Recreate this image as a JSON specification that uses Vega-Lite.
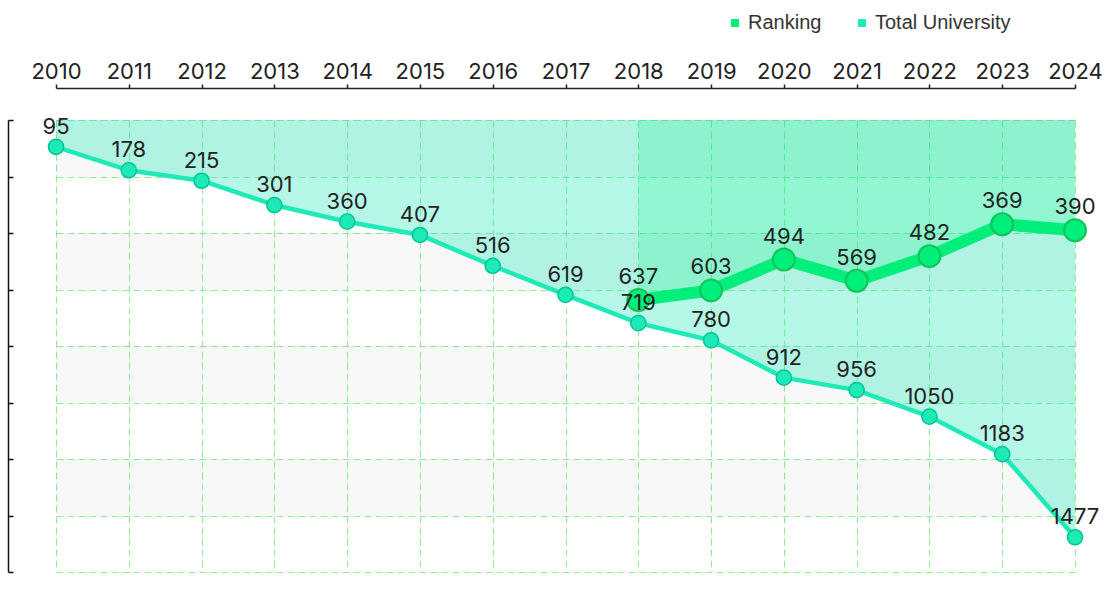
{
  "$schema": "https://vega.github.io/schema/vega-lite/v6.json",
  "width": 1019,
  "height": 452,
  "autosize": {"type": "none"},
  "padding": {"left": 56, "top": 120, "right": 43, "bottom": 28},
  "background": "white",
  "config": {
    "view": {"stroke": null},
    "font": "Inter",
    "legend": {
      "orient": "none",
      "legendX": 669,
      "legendY": -107,
      "direction": "horizontal",
      "title": null,
      "symbolType": "square",
      "symbolSize": 64,
      "symbolOpacity": 1,
      "symbolStrokeWidth": 0,
      "labelFont": "Liberation Sans",
      "labelFontSize": 20,
      "labelColor": "#333333",
      "labelOffset": 3,
      "columnPadding": 30
    }
  },
  "resolve": {"scale": {"y": "shared", "x": "shared"}, "axis": {"y": "independent"}},
  "datasets": {
    "main": [
      {"year": 2010, "series": "Total University", "value": 95},
      {"year": 2011, "series": "Total University", "value": 178},
      {"year": 2012, "series": "Total University", "value": 215},
      {"year": 2013, "series": "Total University", "value": 301},
      {"year": 2014, "series": "Total University", "value": 360},
      {"year": 2015, "series": "Total University", "value": 407},
      {"year": 2016, "series": "Total University", "value": 516},
      {"year": 2017, "series": "Total University", "value": 619},
      {"year": 2018, "series": "Total University", "value": 719},
      {"year": 2019, "series": "Total University", "value": 780},
      {"year": 2020, "series": "Total University", "value": 912},
      {"year": 2021, "series": "Total University", "value": 956},
      {"year": 2022, "series": "Total University", "value": 1050},
      {"year": 2023, "series": "Total University", "value": 1183},
      {"year": 2024, "series": "Total University", "value": 1477},
      {"year": 2018, "series": "Ranking", "value": 637},
      {"year": 2019, "series": "Ranking", "value": 603},
      {"year": 2020, "series": "Ranking", "value": 494},
      {"year": 2021, "series": "Ranking", "value": 569},
      {"year": 2022, "series": "Ranking", "value": 482},
      {"year": 2023, "series": "Ranking", "value": 369},
      {"year": 2024, "series": "Ranking", "value": 390}
    ],
    "bands": [
      {"lo": 0, "hi": 200},
      {"lo": 400, "hi": 600},
      {"lo": 800, "hi": 1000},
      {"lo": 1200, "hi": 1400}
    ]
  },
  "layer": [
    {
      "data": {"name": "bands"},
      "mark": {"type": "rect", "fill": "#000000", "opacity": 0.028},
      "encoding": {
        "x": {
          "datum": 2010,
          "type": "quantitative",
          "scale": {"domain": [2010, 2024], "nice": false, "zero": false},
          "axis": {
            "orient": "top",
            "offset": 32,
            "values": [2010, 2011, 2012, 2013, 2014, 2015, 2016, 2017, 2018, 2019, 2020, 2021, 2022, 2023, 2024],
            "format": "d",
            "labelFont": "Inter",
            "labelFontSize": 22,
            "labelColor": "#222222",
            "labelPadding": 1,
            "labelFlush": false,
            "labelOverlap": false,
            "domainColor": "#222222",
            "domainWidth": 1.5,
            "tickColor": "#222222",
            "tickWidth": 1.5,
            "tickSize": 4,
            "grid": true,
            "gridColor": "#90ee90",
            "gridDash": [7, 4],
            "gridWidth": 1,
            "title": null
          }
        },
        "x2": {"datum": 2024},
        "y": {
          "field": "lo",
          "type": "quantitative",
          "scale": {"domain": [0, 1600], "reverse": true, "nice": false},
          "axis": {
            "orient": "left",
            "values": [0, 200, 400, 600, 800, 1000, 1200, 1400, 1600],
            "labels": false,
            "domain": false,
            "ticks": false,
            "grid": true,
            "gridColor": "#90ee90",
            "gridDash": [7, 4],
            "gridWidth": 1,
            "title": null
          }
        },
        "y2": {"field": "hi"}
      }
    },
    {
      "data": {"name": "main"},
      "mark": {"type": "area", "interpolate": "linear"},
      "encoding": {
        "x": {"field": "year", "type": "quantitative"},
        "y": {
          "field": "value",
          "type": "quantitative",
          "stack": null,
          "axis": {
            "orient": "left",
            "offset": 48,
            "values": [0, 200, 400, 600, 800, 1000, 1200, 1400, 1600],
            "labels": false,
            "grid": false,
            "domainColor": "#111111",
            "domainWidth": 1.5,
            "tickColor": "#111111",
            "tickWidth": 1.5,
            "tickSize": -5,
            "title": null
          }
        },
        "y2": {"datum": 0},
        "color": {
          "field": "series",
          "type": "nominal",
          "scale": {"domain": ["Ranking", "Total University"], "range": ["#00ee7a", "#1deab6"]},
          "legend": {"symbolOpacity": 1}
        },
        "fillOpacity": {
          "field": "series",
          "type": "nominal",
          "scale": {"domain": ["Ranking", "Total University"], "range": [0.2, 0.32]},
          "legend": null
        }
      }
    },
    {
      "data": {"name": "main"},
      "transform": [{"filter": "datum.series === 'Total University'"}],
      "mark": {"type": "line", "color": "#1deab6", "strokeWidth": 4.5},
      "encoding": {
        "x": {"field": "year", "type": "quantitative"},
        "y": {"field": "value", "type": "quantitative", "axis": null}
      }
    },
    {
      "data": {"name": "main"},
      "transform": [{"filter": "datum.series === 'Total University'"}],
      "mark": {"type": "point", "filled": true, "fill": "#1deab6", "stroke": "#00c496", "strokeWidth": 1.5, "size": 230, "opacity": 1},
      "encoding": {
        "x": {"field": "year", "type": "quantitative"},
        "y": {"field": "value", "type": "quantitative", "axis": null}
      }
    },
    {
      "data": {"name": "main"},
      "transform": [{"filter": "datum.series === 'Ranking'"}],
      "mark": {"type": "line", "color": "#00ee7a", "strokeWidth": 12},
      "encoding": {
        "x": {"field": "year", "type": "quantitative"},
        "y": {"field": "value", "type": "quantitative", "axis": null}
      }
    },
    {
      "data": {"name": "main"},
      "transform": [{"filter": "datum.series === 'Ranking'"}],
      "mark": {"type": "point", "filled": true, "fill": "#00ee7a", "stroke": "#10c458", "strokeWidth": 2, "size": 480, "opacity": 1},
      "encoding": {
        "x": {"field": "year", "type": "quantitative"},
        "y": {"field": "value", "type": "quantitative", "axis": null}
      }
    },
    {
      "data": {"name": "main"},
      "transform": [{"filter": "datum.series === 'Total University'"}],
      "mark": {"type": "text", "fontSize": 22, "font": "Inter", "color": "#222222", "baseline": "alphabetic", "dy": -13},
      "encoding": {
        "x": {"field": "year", "type": "quantitative"},
        "y": {"field": "value", "type": "quantitative", "axis": null},
        "text": {"field": "value", "type": "quantitative"}
      }
    },
    {
      "data": {"name": "main"},
      "transform": [{"filter": "datum.series === 'Ranking'"}],
      "mark": {"type": "text", "fontSize": 22, "font": "Inter", "color": "#222222", "baseline": "alphabetic", "dy": -16},
      "encoding": {
        "x": {"field": "year", "type": "quantitative"},
        "y": {"field": "value", "type": "quantitative", "axis": null},
        "text": {"field": "value", "type": "quantitative"}
      }
    }
  ]
}
